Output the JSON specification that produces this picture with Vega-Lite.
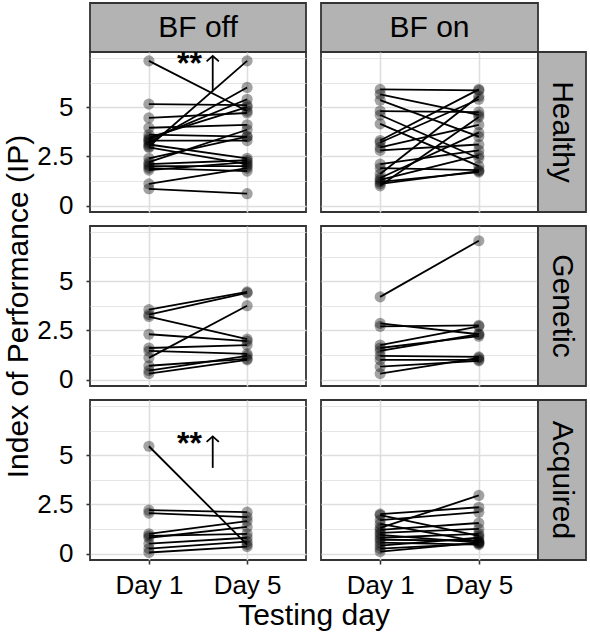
{
  "$schema": "https://vega.github.io/schema/vega-lite/v6.json",
  "background": "white",
  "padding": {"left": 2, "top": 2, "right": 3, "bottom": 2},
  "columns": 4,
  "spacing": 0,
  "align": "each",
  "bounds": "flush",
  "datasets": {
    "ip": [
      {"bf": "BF off", "group": "Healthy", "id": 1, "day": 1, "ip": 7.35}, {"bf": "BF off", "group": "Healthy", "id": 1, "day": 5, "ip": 4.8},
      {"bf": "BF off", "group": "Healthy", "id": 2, "day": 1, "ip": 5.15}, {"bf": "BF off", "group": "Healthy", "id": 2, "day": 5, "ip": 5.1},
      {"bf": "BF off", "group": "Healthy", "id": 3, "day": 1, "ip": 4.45}, {"bf": "BF off", "group": "Healthy", "id": 3, "day": 5, "ip": 4.7},
      {"bf": "BF off", "group": "Healthy", "id": 4, "day": 1, "ip": 3.0}, {"bf": "BF off", "group": "Healthy", "id": 4, "day": 5, "ip": 7.35},
      {"bf": "BF off", "group": "Healthy", "id": 5, "day": 1, "ip": 3.2}, {"bf": "BF off", "group": "Healthy", "id": 5, "day": 5, "ip": 6.0},
      {"bf": "BF off", "group": "Healthy", "id": 6, "day": 1, "ip": 3.35}, {"bf": "BF off", "group": "Healthy", "id": 6, "day": 5, "ip": 5.4},
      {"bf": "BF off", "group": "Healthy", "id": 7, "day": 1, "ip": 3.45}, {"bf": "BF off", "group": "Healthy", "id": 7, "day": 5, "ip": 5.0},
      {"bf": "BF off", "group": "Healthy", "id": 8, "day": 1, "ip": 3.95}, {"bf": "BF off", "group": "Healthy", "id": 8, "day": 5, "ip": 4.1},
      {"bf": "BF off", "group": "Healthy", "id": 9, "day": 1, "ip": 3.6}, {"bf": "BF off", "group": "Healthy", "id": 9, "day": 5, "ip": 3.5},
      {"bf": "BF off", "group": "Healthy", "id": 10, "day": 1, "ip": 3.3}, {"bf": "BF off", "group": "Healthy", "id": 10, "day": 5, "ip": 3.3},
      {"bf": "BF off", "group": "Healthy", "id": 11, "day": 1, "ip": 3.1}, {"bf": "BF off", "group": "Healthy", "id": 11, "day": 5, "ip": 2.4},
      {"bf": "BF off", "group": "Healthy", "id": 12, "day": 1, "ip": 2.95}, {"bf": "BF off", "group": "Healthy", "id": 12, "day": 5, "ip": 2.1},
      {"bf": "BF off", "group": "Healthy", "id": 13, "day": 1, "ip": 2.4}, {"bf": "BF off", "group": "Healthy", "id": 13, "day": 5, "ip": 3.5},
      {"bf": "BF off", "group": "Healthy", "id": 14, "day": 1, "ip": 2.2}, {"bf": "BF off", "group": "Healthy", "id": 14, "day": 5, "ip": 3.85},
      {"bf": "BF off", "group": "Healthy", "id": 15, "day": 1, "ip": 2.1}, {"bf": "BF off", "group": "Healthy", "id": 15, "day": 5, "ip": 2.3},
      {"bf": "BF off", "group": "Healthy", "id": 16, "day": 1, "ip": 2.0}, {"bf": "BF off", "group": "Healthy", "id": 16, "day": 5, "ip": 2.0},
      {"bf": "BF off", "group": "Healthy", "id": 17, "day": 1, "ip": 1.9}, {"bf": "BF off", "group": "Healthy", "id": 17, "day": 5, "ip": 1.75},
      {"bf": "BF off", "group": "Healthy", "id": 18, "day": 1, "ip": 1.8}, {"bf": "BF off", "group": "Healthy", "id": 18, "day": 5, "ip": 2.2},
      {"bf": "BF off", "group": "Healthy", "id": 19, "day": 1, "ip": 1.1}, {"bf": "BF off", "group": "Healthy", "id": 19, "day": 5, "ip": 1.9},
      {"bf": "BF off", "group": "Healthy", "id": 20, "day": 1, "ip": 0.85}, {"bf": "BF off", "group": "Healthy", "id": 20, "day": 5, "ip": 0.6},

      {"bf": "BF on", "group": "Healthy", "id": 1, "day": 1, "ip": 5.9}, {"bf": "BF on", "group": "Healthy", "id": 1, "day": 5, "ip": 5.85},
      {"bf": "BF on", "group": "Healthy", "id": 2, "day": 1, "ip": 5.65}, {"bf": "BF on", "group": "Healthy", "id": 2, "day": 5, "ip": 4.6},
      {"bf": "BF on", "group": "Healthy", "id": 3, "day": 1, "ip": 5.35}, {"bf": "BF on", "group": "Healthy", "id": 3, "day": 5, "ip": 3.5},
      {"bf": "BF on", "group": "Healthy", "id": 4, "day": 1, "ip": 4.8}, {"bf": "BF on", "group": "Healthy", "id": 4, "day": 5, "ip": 4.75},
      {"bf": "BF on", "group": "Healthy", "id": 5, "day": 1, "ip": 4.6}, {"bf": "BF on", "group": "Healthy", "id": 5, "day": 5, "ip": 2.4},
      {"bf": "BF on", "group": "Healthy", "id": 6, "day": 1, "ip": 4.15}, {"bf": "BF on", "group": "Healthy", "id": 6, "day": 5, "ip": 2.0},
      {"bf": "BF on", "group": "Healthy", "id": 7, "day": 1, "ip": 3.3}, {"bf": "BF on", "group": "Healthy", "id": 7, "day": 5, "ip": 5.9},
      {"bf": "BF on", "group": "Healthy", "id": 8, "day": 1, "ip": 3.2}, {"bf": "BF on", "group": "Healthy", "id": 8, "day": 5, "ip": 5.4},
      {"bf": "BF on", "group": "Healthy", "id": 9, "day": 1, "ip": 2.95}, {"bf": "BF on", "group": "Healthy", "id": 9, "day": 5, "ip": 4.1},
      {"bf": "BF on", "group": "Healthy", "id": 10, "day": 1, "ip": 2.8}, {"bf": "BF on", "group": "Healthy", "id": 10, "day": 5, "ip": 3.1},
      {"bf": "BF on", "group": "Healthy", "id": 11, "day": 1, "ip": 2.1}, {"bf": "BF on", "group": "Healthy", "id": 11, "day": 5, "ip": 2.8},
      {"bf": "BF on", "group": "Healthy", "id": 12, "day": 1, "ip": 1.9}, {"bf": "BF on", "group": "Healthy", "id": 12, "day": 5, "ip": 1.8},
      {"bf": "BF on", "group": "Healthy", "id": 13, "day": 1, "ip": 1.6}, {"bf": "BF on", "group": "Healthy", "id": 13, "day": 5, "ip": 5.55},
      {"bf": "BF on", "group": "Healthy", "id": 14, "day": 1, "ip": 1.4}, {"bf": "BF on", "group": "Healthy", "id": 14, "day": 5, "ip": 3.7},
      {"bf": "BF on", "group": "Healthy", "id": 15, "day": 1, "ip": 1.3}, {"bf": "BF on", "group": "Healthy", "id": 15, "day": 5, "ip": 2.55},
      {"bf": "BF on", "group": "Healthy", "id": 16, "day": 1, "ip": 1.2}, {"bf": "BF on", "group": "Healthy", "id": 16, "day": 5, "ip": 1.7},
      {"bf": "BF on", "group": "Healthy", "id": 17, "day": 1, "ip": 1.1}, {"bf": "BF on", "group": "Healthy", "id": 17, "day": 5, "ip": 1.75},
      {"bf": "BF on", "group": "Healthy", "id": 18, "day": 1, "ip": 1.0}, {"bf": "BF on", "group": "Healthy", "id": 18, "day": 5, "ip": 4.5},

      {"bf": "BF off", "group": "Genetic", "id": 1, "day": 1, "ip": 3.55}, {"bf": "BF off", "group": "Genetic", "id": 1, "day": 5, "ip": 4.45},
      {"bf": "BF off", "group": "Genetic", "id": 2, "day": 1, "ip": 3.3}, {"bf": "BF off", "group": "Genetic", "id": 2, "day": 5, "ip": 4.4},
      {"bf": "BF off", "group": "Genetic", "id": 3, "day": 1, "ip": 3.2}, {"bf": "BF off", "group": "Genetic", "id": 3, "day": 5, "ip": 2.05},
      {"bf": "BF off", "group": "Genetic", "id": 4, "day": 1, "ip": 2.3}, {"bf": "BF off", "group": "Genetic", "id": 4, "day": 5, "ip": 1.95},
      {"bf": "BF off", "group": "Genetic", "id": 5, "day": 1, "ip": 1.6}, {"bf": "BF off", "group": "Genetic", "id": 5, "day": 5, "ip": 1.75},
      {"bf": "BF off", "group": "Genetic", "id": 6, "day": 1, "ip": 1.45}, {"bf": "BF off", "group": "Genetic", "id": 6, "day": 5, "ip": 1.3},
      {"bf": "BF off", "group": "Genetic", "id": 7, "day": 1, "ip": 1.1}, {"bf": "BF off", "group": "Genetic", "id": 7, "day": 5, "ip": 3.75},
      {"bf": "BF off", "group": "Genetic", "id": 8, "day": 1, "ip": 0.7}, {"bf": "BF off", "group": "Genetic", "id": 8, "day": 5, "ip": 1.05},
      {"bf": "BF off", "group": "Genetic", "id": 9, "day": 1, "ip": 0.45}, {"bf": "BF off", "group": "Genetic", "id": 9, "day": 5, "ip": 1.2},
      {"bf": "BF off", "group": "Genetic", "id": 10, "day": 1, "ip": 0.3}, {"bf": "BF off", "group": "Genetic", "id": 10, "day": 5, "ip": 1.0},

      {"bf": "BF on", "group": "Genetic", "id": 1, "day": 1, "ip": 4.2}, {"bf": "BF on", "group": "Genetic", "id": 1, "day": 5, "ip": 7.05},
      {"bf": "BF on", "group": "Genetic", "id": 2, "day": 1, "ip": 2.85}, {"bf": "BF on", "group": "Genetic", "id": 2, "day": 5, "ip": 2.3},
      {"bf": "BF on", "group": "Genetic", "id": 3, "day": 1, "ip": 2.7}, {"bf": "BF on", "group": "Genetic", "id": 3, "day": 5, "ip": 2.75},
      {"bf": "BF on", "group": "Genetic", "id": 4, "day": 1, "ip": 1.75}, {"bf": "BF on", "group": "Genetic", "id": 4, "day": 5, "ip": 2.7},
      {"bf": "BF on", "group": "Genetic", "id": 5, "day": 1, "ip": 1.6}, {"bf": "BF on", "group": "Genetic", "id": 5, "day": 5, "ip": 2.2},
      {"bf": "BF on", "group": "Genetic", "id": 6, "day": 1, "ip": 1.45}, {"bf": "BF on", "group": "Genetic", "id": 6, "day": 5, "ip": 2.3},
      {"bf": "BF on", "group": "Genetic", "id": 7, "day": 1, "ip": 1.2}, {"bf": "BF on", "group": "Genetic", "id": 7, "day": 5, "ip": 1.15},
      {"bf": "BF on", "group": "Genetic", "id": 8, "day": 1, "ip": 1.0}, {"bf": "BF on", "group": "Genetic", "id": 8, "day": 5, "ip": 1.0},
      {"bf": "BF on", "group": "Genetic", "id": 9, "day": 1, "ip": 0.65}, {"bf": "BF on", "group": "Genetic", "id": 9, "day": 5, "ip": 0.95},
      {"bf": "BF on", "group": "Genetic", "id": 10, "day": 1, "ip": 0.3}, {"bf": "BF on", "group": "Genetic", "id": 10, "day": 5, "ip": 1.1},

      {"bf": "BF off", "group": "Acquired", "id": 1, "day": 1, "ip": 5.45}, {"bf": "BF off", "group": "Acquired", "id": 1, "day": 5, "ip": 0.45},
      {"bf": "BF off", "group": "Acquired", "id": 2, "day": 1, "ip": 2.2}, {"bf": "BF off", "group": "Acquired", "id": 2, "day": 5, "ip": 2.1},
      {"bf": "BF off", "group": "Acquired", "id": 3, "day": 1, "ip": 2.05}, {"bf": "BF off", "group": "Acquired", "id": 3, "day": 5, "ip": 1.85},
      {"bf": "BF off", "group": "Acquired", "id": 4, "day": 1, "ip": 1.0}, {"bf": "BF off", "group": "Acquired", "id": 4, "day": 5, "ip": 1.65},
      {"bf": "BF off", "group": "Acquired", "id": 5, "day": 1, "ip": 0.9}, {"bf": "BF off", "group": "Acquired", "id": 5, "day": 5, "ip": 1.0},
      {"bf": "BF off", "group": "Acquired", "id": 6, "day": 1, "ip": 0.8}, {"bf": "BF off", "group": "Acquired", "id": 6, "day": 5, "ip": 1.35},
      {"bf": "BF off", "group": "Acquired", "id": 7, "day": 1, "ip": 0.5}, {"bf": "BF off", "group": "Acquired", "id": 7, "day": 5, "ip": 0.8},
      {"bf": "BF off", "group": "Acquired", "id": 8, "day": 1, "ip": 0.25}, {"bf": "BF off", "group": "Acquired", "id": 8, "day": 5, "ip": 0.6},
      {"bf": "BF off", "group": "Acquired", "id": 9, "day": 1, "ip": 0.05}, {"bf": "BF off", "group": "Acquired", "id": 9, "day": 5, "ip": 0.35},

      {"bf": "BF on", "group": "Acquired", "id": 1, "day": 1, "ip": 2.0}, {"bf": "BF on", "group": "Acquired", "id": 1, "day": 5, "ip": 2.35},
      {"bf": "BF on", "group": "Acquired", "id": 2, "day": 1, "ip": 1.95}, {"bf": "BF on", "group": "Acquired", "id": 2, "day": 5, "ip": 0.9},
      {"bf": "BF on", "group": "Acquired", "id": 3, "day": 1, "ip": 1.7}, {"bf": "BF on", "group": "Acquired", "id": 3, "day": 5, "ip": 2.1},
      {"bf": "BF on", "group": "Acquired", "id": 4, "day": 1, "ip": 1.5}, {"bf": "BF on", "group": "Acquired", "id": 4, "day": 5, "ip": 0.6},
      {"bf": "BF on", "group": "Acquired", "id": 5, "day": 1, "ip": 1.3}, {"bf": "BF on", "group": "Acquired", "id": 5, "day": 5, "ip": 2.95},
      {"bf": "BF on", "group": "Acquired", "id": 6, "day": 1, "ip": 1.2}, {"bf": "BF on", "group": "Acquired", "id": 6, "day": 5, "ip": 1.55},
      {"bf": "BF on", "group": "Acquired", "id": 7, "day": 1, "ip": 1.05}, {"bf": "BF on", "group": "Acquired", "id": 7, "day": 5, "ip": 1.25},
      {"bf": "BF on", "group": "Acquired", "id": 8, "day": 1, "ip": 0.95}, {"bf": "BF on", "group": "Acquired", "id": 8, "day": 5, "ip": 0.55},
      {"bf": "BF on", "group": "Acquired", "id": 9, "day": 1, "ip": 0.8}, {"bf": "BF on", "group": "Acquired", "id": 9, "day": 5, "ip": 1.0},
      {"bf": "BF on", "group": "Acquired", "id": 10, "day": 1, "ip": 0.7}, {"bf": "BF on", "group": "Acquired", "id": 10, "day": 5, "ip": 0.65},
      {"bf": "BF on", "group": "Acquired", "id": 11, "day": 1, "ip": 0.55}, {"bf": "BF on", "group": "Acquired", "id": 11, "day": 5, "ip": 0.45},
      {"bf": "BF on", "group": "Acquired", "id": 12, "day": 1, "ip": 0.4}, {"bf": "BF on", "group": "Acquired", "id": 12, "day": 5, "ip": 0.8},
      {"bf": "BF on", "group": "Acquired", "id": 13, "day": 1, "ip": 0.25}, {"bf": "BF on", "group": "Acquired", "id": 13, "day": 5, "ip": 0.5},
      {"bf": "BF on", "group": "Acquired", "id": 14, "day": 1, "ip": 0.1}, {"bf": "BF on", "group": "Acquired", "id": 14, "day": 5, "ip": 0.55}
    ],
    "stars": [
      {"bf": "BF off", "group": "Healthy", "day": 2.65, "ip": 6.66, "label": "**"},
      {"bf": "BF off", "group": "Acquired", "day": 2.65, "ip": 5.08, "label": "**"}
    ],
    "arrows": [
      {"bf": "BF off", "group": "Healthy", "day": 3.6, "ip": 5.8, "ip2": 7.6},
      {"bf": "BF off", "group": "Acquired", "day": 3.6, "ip": 4.35, "ip2": 5.95}
    ],
    "heads": [
      {"bf": "BF off", "group": "Healthy", "day": 3.6, "ip": 7.6},
      {"bf": "BF off", "group": "Acquired", "day": 3.6, "ip": 5.95}
    ]
  },
  "concat": [
    {"width": 216, "height": 49, "data": {"values": [{"bf": "BF off"}]}, "view": {"fill": "#b3b3b3", "stroke": "#333333", "strokeWidth": 1.8},
     "mark": {"type": "text", "fontSize": 30, "color": "black"},
     "encoding": {"text": {"field": "bf"}, "x": {"field": "bf", "type": "nominal", "axis": null}, "y": {"field": "bf", "type": "nominal", "axis": null}}},
    {"width": 15, "height": 49, "data": {"values": []}, "mark": "point"},
    {"width": 217, "height": 49, "data": {"values": [{"bf": "BF on"}]}, "view": {"fill": "#b3b3b3", "stroke": "#333333", "strokeWidth": 1.8},
     "mark": {"type": "text", "fontSize": 30, "color": "black"},
     "encoding": {"text": {"field": "bf"}, "x": {"field": "bf", "type": "nominal", "axis": null}, "y": {"field": "bf", "type": "nominal", "axis": null}}},
    {"width": 48, "height": 49, "data": {"values": []}, "mark": "point"},

    {"width": 216, "height": 160, "view": {"stroke": "#333333", "strokeWidth": 1.8},
     "encoding": {
       "x": {"field": "day", "type": "quantitative", "scale": {"domain": [-1.4, 7.4], "nice": false, "zero": false},
             "axis": {"values": [1, 5], "labels": false, "ticks": false, "title": null, "gridWidth": 1.6}},
       "y": {"field": "ip", "type": "quantitative", "scale": {"domain": [-0.33, 7.8], "nice": false, "zero": false},
             "axis": {"values": [0, 1.25, 2.5, 3.75, 5, 6.25, 7.5], "title": null, "labelOverlap": false,
                      "labelExpr": "indexof([0, 2.5, 5], datum.value) >= 0 ? toString(datum.value) : ''",
                      "tickOpacity": {"condition": {"test": "indexof([0, 2.5, 5], datum.value) >= 0", "value": 1}, "value": 0},
                      "gridWidth": {"condition": {"test": "indexof([0, 2.5, 5], datum.value) >= 0", "value": 1.6}, "value": 0.8}}}
     },
     "layer": [
       {"data": {"name": "ip"}, "transform": [{"filter": "datum.bf === 'BF off' && datum.group === 'Healthy'"}],
        "mark": {"type": "circle", "color": "black", "opacity": 0.36, "size": 125}},
       {"data": {"name": "ip"}, "transform": [{"filter": "datum.bf === 'BF off' && datum.group === 'Healthy'"}],
        "mark": {"type": "line", "color": "black", "strokeWidth": 1.8}, "encoding": {"detail": {"field": "id"}}},
       {"data": {"name": "stars"}, "transform": [{"filter": "datum.bf === 'BF off' && datum.group === 'Healthy'"}],
        "mark": {"type": "text", "fontSize": 32, "fontWeight": "bold", "align": "center", "baseline": "alphabetic", "color": "black"},
        "encoding": {"text": {"field": "label"}}},
       {"data": {"name": "arrows"}, "transform": [{"filter": "datum.bf === 'BF off' && datum.group === 'Healthy'"}],
        "mark": {"type": "rule", "color": "black", "strokeWidth": 1.8}, "encoding": {"y2": {"field": "ip2"}}},
       {"data": {"name": "heads"}, "transform": [{"filter": "datum.bf === 'BF off' && datum.group === 'Healthy'"}],
        "mark": {"type": "point", "shape": "M-1,0.9L0,0L1,0.9", "filled": false, "color": "black", "strokeWidth": 1.8, "size": 150, "opacity": 1}}
     ]},
    {"width": 15, "height": 160, "data": {"values": []}, "mark": "point"},
    {"width": 217, "height": 160, "view": {"stroke": "#333333", "strokeWidth": 1.8},
     "encoding": {
       "x": {"field": "day", "type": "quantitative", "scale": {"domain": [-1.4, 7.4], "nice": false, "zero": false},
             "axis": {"values": [1, 5], "labels": false, "ticks": false, "title": null, "gridWidth": 1.6}},
       "y": {"field": "ip", "type": "quantitative", "scale": {"domain": [-0.33, 7.8], "nice": false, "zero": false},
             "axis": {"values": [0, 1.25, 2.5, 3.75, 5, 6.25, 7.5], "title": null, "labels": false, "ticks": false,
                      "gridWidth": {"condition": {"test": "indexof([0, 2.5, 5], datum.value) >= 0", "value": 1.6}, "value": 0.8}}}
     },
     "layer": [
       {"data": {"name": "ip"}, "transform": [{"filter": "datum.bf === 'BF on' && datum.group === 'Healthy'"}],
        "mark": {"type": "circle", "color": "black", "opacity": 0.36, "size": 125}},
       {"data": {"name": "ip"}, "transform": [{"filter": "datum.bf === 'BF on' && datum.group === 'Healthy'"}],
        "mark": {"type": "line", "color": "black", "strokeWidth": 1.8}, "encoding": {"detail": {"field": "id"}}}
     ]},
    {"width": 48, "height": 160, "data": {"values": [{"group": "Healthy"}]}, "view": {"fill": "#b3b3b3", "stroke": "#333333", "strokeWidth": 1.8},
     "mark": {"type": "text", "fontSize": 30, "color": "black", "angle": 90},
     "encoding": {"text": {"field": "group"}, "x": {"field": "group", "type": "nominal", "axis": null}, "y": {"field": "group", "type": "nominal", "axis": null}}},

    {"width": 216, "height": 14, "data": {"values": []}, "mark": "point"},
    {"width": 15, "height": 14, "data": {"values": []}, "mark": "point"},
    {"width": 217, "height": 14, "data": {"values": []}, "mark": "point"},
    {"width": 48, "height": 14, "data": {"values": []}, "mark": "point"},

    {"width": 216, "height": 160, "view": {"stroke": "#333333", "strokeWidth": 1.8},
     "encoding": {
       "x": {"field": "day", "type": "quantitative", "scale": {"domain": [-1.4, 7.4], "nice": false, "zero": false},
             "axis": {"values": [1, 5], "labels": false, "ticks": false, "title": null, "gridWidth": 1.6}},
       "y": {"field": "ip", "type": "quantitative", "scale": {"domain": [-0.33, 7.8], "nice": false, "zero": false},
             "axis": {"values": [0, 1.25, 2.5, 3.75, 5, 6.25, 7.5], "title": "Index of Performance (IP)", "titlePadding": 3, "labelOverlap": false,
                      "labelExpr": "indexof([0, 2.5, 5], datum.value) >= 0 ? toString(datum.value) : ''",
                      "tickOpacity": {"condition": {"test": "indexof([0, 2.5, 5], datum.value) >= 0", "value": 1}, "value": 0},
                      "gridWidth": {"condition": {"test": "indexof([0, 2.5, 5], datum.value) >= 0", "value": 1.6}, "value": 0.8}}}
     },
     "layer": [
       {"data": {"name": "ip"}, "transform": [{"filter": "datum.bf === 'BF off' && datum.group === 'Genetic'"}],
        "mark": {"type": "circle", "color": "black", "opacity": 0.36, "size": 125}},
       {"data": {"name": "ip"}, "transform": [{"filter": "datum.bf === 'BF off' && datum.group === 'Genetic'"}],
        "mark": {"type": "line", "color": "black", "strokeWidth": 1.8}, "encoding": {"detail": {"field": "id"}}}
     ]},
    {"width": 15, "height": 160, "data": {"values": []}, "mark": "point"},
    {"width": 217, "height": 160, "view": {"stroke": "#333333", "strokeWidth": 1.8},
     "encoding": {
       "x": {"field": "day", "type": "quantitative", "scale": {"domain": [-1.4, 7.4], "nice": false, "zero": false},
             "axis": {"values": [1, 5], "labels": false, "ticks": false, "title": null, "gridWidth": 1.6}},
       "y": {"field": "ip", "type": "quantitative", "scale": {"domain": [-0.33, 7.8], "nice": false, "zero": false},
             "axis": {"values": [0, 1.25, 2.5, 3.75, 5, 6.25, 7.5], "title": null, "labels": false, "ticks": false,
                      "gridWidth": {"condition": {"test": "indexof([0, 2.5, 5], datum.value) >= 0", "value": 1.6}, "value": 0.8}}}
     },
     "layer": [
       {"data": {"name": "ip"}, "transform": [{"filter": "datum.bf === 'BF on' && datum.group === 'Genetic'"}],
        "mark": {"type": "circle", "color": "black", "opacity": 0.36, "size": 125}},
       {"data": {"name": "ip"}, "transform": [{"filter": "datum.bf === 'BF on' && datum.group === 'Genetic'"}],
        "mark": {"type": "line", "color": "black", "strokeWidth": 1.8}, "encoding": {"detail": {"field": "id"}}}
     ]},
    {"width": 48, "height": 160, "data": {"values": [{"group": "Genetic"}]}, "view": {"fill": "#b3b3b3", "stroke": "#333333", "strokeWidth": 1.8},
     "mark": {"type": "text", "fontSize": 30, "color": "black", "angle": 90},
     "encoding": {"text": {"field": "group"}, "x": {"field": "group", "type": "nominal", "axis": null}, "y": {"field": "group", "type": "nominal", "axis": null}}},

    {"width": 216, "height": 14, "data": {"values": []}, "mark": "point"},
    {"width": 15, "height": 14, "data": {"values": []}, "mark": "point"},
    {"width": 217, "height": 14, "data": {"values": []}, "mark": "point"},
    {"width": 48, "height": 14, "data": {"values": []}, "mark": "point"},

    {"width": 216, "height": 160, "view": {"stroke": "#333333", "strokeWidth": 1.8},
     "encoding": {
       "x": {"field": "day", "type": "quantitative", "scale": {"domain": [-1.4, 7.4], "nice": false, "zero": false},
             "axis": {"values": [1, 5], "title": null, "labelExpr": "'Day ' + datum.value", "labelOverlap": false, "labelPadding": 8, "gridWidth": 1.6}},
       "y": {"field": "ip", "type": "quantitative", "scale": {"domain": [-0.33, 7.8], "nice": false, "zero": false},
             "axis": {"values": [0, 1.25, 2.5, 3.75, 5, 6.25, 7.5], "title": null, "labelOverlap": false,
                      "labelExpr": "indexof([0, 2.5, 5], datum.value) >= 0 ? toString(datum.value) : ''",
                      "tickOpacity": {"condition": {"test": "indexof([0, 2.5, 5], datum.value) >= 0", "value": 1}, "value": 0},
                      "gridWidth": {"condition": {"test": "indexof([0, 2.5, 5], datum.value) >= 0", "value": 1.6}, "value": 0.8}}}
     },
     "layer": [
       {"data": {"name": "ip"}, "transform": [{"filter": "datum.bf === 'BF off' && datum.group === 'Acquired'"}],
        "mark": {"type": "circle", "color": "black", "opacity": 0.36, "size": 125}},
       {"data": {"name": "ip"}, "transform": [{"filter": "datum.bf === 'BF off' && datum.group === 'Acquired'"}],
        "mark": {"type": "line", "color": "black", "strokeWidth": 1.8}, "encoding": {"detail": {"field": "id"}}},
       {"data": {"name": "stars"}, "transform": [{"filter": "datum.bf === 'BF off' && datum.group === 'Acquired'"}],
        "mark": {"type": "text", "fontSize": 32, "fontWeight": "bold", "align": "center", "baseline": "alphabetic", "color": "black"},
        "encoding": {"text": {"field": "label"}}},
       {"data": {"name": "arrows"}, "transform": [{"filter": "datum.bf === 'BF off' && datum.group === 'Acquired'"}],
        "mark": {"type": "rule", "color": "black", "strokeWidth": 1.8}, "encoding": {"y2": {"field": "ip2"}}},
       {"data": {"name": "heads"}, "transform": [{"filter": "datum.bf === 'BF off' && datum.group === 'Acquired'"}],
        "mark": {"type": "point", "shape": "M-1,0.9L0,0L1,0.9", "filled": false, "color": "black", "strokeWidth": 1.8, "size": 150, "opacity": 1}}
     ]},
    {"width": 15, "height": 160, "data": {"values": []}, "mark": "point",
     "encoding": {"x": {"field": "day", "type": "quantitative", "scale": {"domain": [0, 1]},
                        "axis": {"title": "Testing day", "values": [], "labels": false, "ticks": false, "grid": false, "titlePadding": 40}}}},
    {"width": 217, "height": 160, "view": {"stroke": "#333333", "strokeWidth": 1.8},
     "encoding": {
       "x": {"field": "day", "type": "quantitative", "scale": {"domain": [-1.4, 7.4], "nice": false, "zero": false},
             "axis": {"values": [1, 5], "title": null, "labelExpr": "'Day ' + datum.value", "labelOverlap": false, "labelPadding": 8, "gridWidth": 1.6}},
       "y": {"field": "ip", "type": "quantitative", "scale": {"domain": [-0.33, 7.8], "nice": false, "zero": false},
             "axis": {"values": [0, 1.25, 2.5, 3.75, 5, 6.25, 7.5], "title": null, "labels": false, "ticks": false,
                      "gridWidth": {"condition": {"test": "indexof([0, 2.5, 5], datum.value) >= 0", "value": 1.6}, "value": 0.8}}}
     },
     "layer": [
       {"data": {"name": "ip"}, "transform": [{"filter": "datum.bf === 'BF on' && datum.group === 'Acquired'"}],
        "mark": {"type": "circle", "color": "black", "opacity": 0.36, "size": 125}},
       {"data": {"name": "ip"}, "transform": [{"filter": "datum.bf === 'BF on' && datum.group === 'Acquired'"}],
        "mark": {"type": "line", "color": "black", "strokeWidth": 1.8}, "encoding": {"detail": {"field": "id"}}}
     ]},
    {"width": 48, "height": 160, "data": {"values": [{"group": "Acquired"}]}, "view": {"fill": "#b3b3b3", "stroke": "#333333", "strokeWidth": 1.8},
     "mark": {"type": "text", "fontSize": 30, "color": "black", "angle": 90},
     "encoding": {"text": {"field": "group"}, "x": {"field": "group", "type": "nominal", "axis": null}, "y": {"field": "group", "type": "nominal", "axis": null}}}
  ],
  "config": {
    "font": "Liberation Sans",
    "view": {"stroke": null},
    "axis": {
      "domain": false,
      "gridColor": "#dedede",
      "labelFont": "Liberation Sans",
      "labelFontSize": 26,
      "labelColor": "black",
      "labelPadding": 13,
      "tickColor": "#333333",
      "tickSize": 4,
      "tickWidth": 1.6,
      "titleFont": "Liberation Sans",
      "titleFontSize": 30,
      "titleFontWeight": "normal",
      "titleColor": "black"
    }
  }
}
